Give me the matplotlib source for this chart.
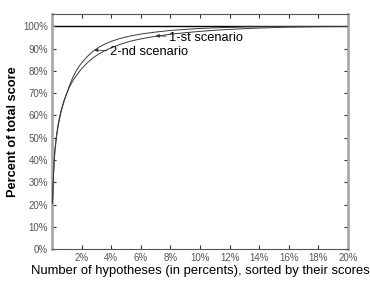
import numpy as np
import matplotlib
matplotlib.use("Agg")
import matplotlib.pyplot as plt

# data (x in % of hypotheses, y in % of total score)
x_pts = [0.03, 0.05, 0.1, 0.15, 0.2, 0.3, 0.4, 0.5, 0.6, 0.8, 1.0, 1.2, 1.4,
         1.6, 1.8, 2.0, 2.4, 2.8, 3.2, 3.6, 4.0, 4.5, 5.0, 5.5, 6.0, 7.0,
         8.0, 9.0, 10.0, 11.0, 12.0, 13.0, 14.0, 15.0, 16.0, 18.0, 20.0]
s1 = [20.5, 24, 33, 40, 45, 51, 55.5, 59, 62, 66.5, 70, 73, 75.5,
      77.5, 79.3, 81, 83.8, 86, 87.8, 89.2, 90.4, 91.7, 92.8, 93.7, 94.4, 95.6,
      96.5, 97.2, 97.8, 98.3, 98.7, 99.0, 99.3, 99.5, 99.7, 99.9, 100]
s2 = [20.5, 24, 33, 39.5, 44, 50, 54.5, 58, 61.2, 66, 70, 73.8, 77,
      79.6, 81.8, 83.6, 86.6, 89, 90.8, 92.2, 93.3, 94.4, 95.3, 96, 96.6, 97.5,
      98.2, 98.7, 99.1, 99.4, 99.6, 99.8, 99.9, 100, 100, 100, 100]
xticks = [2, 4, 6, 8, 10, 12, 14, 16, 18, 20]
yticks = [0, 10, 20, 30, 40, 50, 60, 70, 80, 90, 100]

plt.rcParams['font.family'] = ['Liberation Sans', 'DejaVu Sans']

fig = plt.figure(figsize=(3.70, 2.83), dpi=100)
ax = fig.add_axes([0.1405, 0.12, 0.80, 0.8305])

ax.axhline(100, color="black", linewidth=1.0, zorder=1)
ax.plot(x_pts, s1, color="#3a3a3a", linewidth=0.7, zorder=3)
ax.plot(x_pts, s2, color="#3a3a3a", linewidth=0.7, zorder=3)

ax.set_xlim(0, 20)
ax.set_ylim(0, 105.6)
ax.set_xticks(xticks)
ax.set_xticklabels([f"{t}%" for t in xticks])
ax.set_yticks(yticks)
ax.set_yticklabels([f"{t}%" for t in yticks])
ax.tick_params(direction="in", length=3, width=0.8, color="#333333",
               labelsize=7, labelcolor="#555555", top=True, right=True,
               pad=3)

for side in ["left", "right"]:
    ax.spines[side].set_color("#aaaaaa")
    ax.spines[side].set_linewidth(2.0)
for side in ["top", "bottom"]:
    ax.spines[side].set_color("#555555")
    ax.spines[side].set_linewidth(0.8)

ax.set_xlabel("Number of hypotheses (in percents), sorted by their scores",
              fontsize=9.4, labelpad=1)
ax.set_ylabel("Percent of total score", fontsize=9.2, fontweight="bold",
              labelpad=3)

arrow = dict(arrowstyle="-|>", color="#333333", linewidth=0.6,
             mutation_scale=5, shrinkA=0, shrinkB=0)
ax.annotate("1-st scenario", xy=(7.0, 95.8), xytext=(7.9, 95.0),
            fontsize=9.3, va="center", ha="left", arrowprops=arrow)
ax.annotate("2-nd scenario", xy=(2.85, 89.4), xytext=(3.9, 88.6),
            fontsize=9.3, va="center", ha="left", arrowprops=arrow)

fig.savefig("out.png", dpi=100)
